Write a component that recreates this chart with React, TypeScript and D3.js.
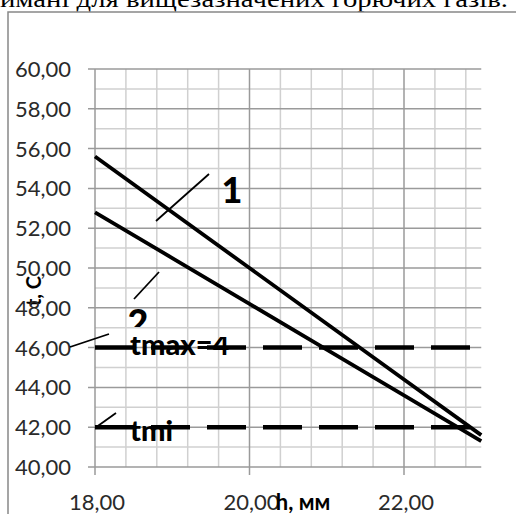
import React from "react";
import * as d3 from "d3";

const hValues = [18, 19, 20, 21, 22, 23];
const series1 = [55.6, 52.8, 50.0, 47.2, 44.4, 41.6];
const series2 = [52.8, 50.5, 48.2, 45.9, 43.6, 41.3];
const tMax = 46;
const tMin = 42;
const yTicks = [40, 42, 44, 46, 48, 50, 52, 54, 56, 58, 60];
const yMinor = [41, 43, 45, 47, 49, 51, 53, 55, 57, 59];
const xTicks = [18, 20, 22];
const xMinor = [18.4, 18.8, 19.2, 19.6, 20.4, 20.8, 21.2, 21.6, 22.4, 22.8];
const seriesLabels = ["1", "2"];
const refLabels = ["tmax=4", "tmi"];
const xTitle = "h, мм";
const yTitle = "t, C";
const captionText = "имані для вищезазначених горючих газів.";

export default function App() {
  const W = 516, H = 514;
  const x = d3.scaleLinear().domain([18, 23]).range([95, 481.25]);
  const y = d3.scaleLinear().domain([40, 60]).range([467, 69]);
  const fmt = (v: number) => v.toFixed(2).replace(".", ",");
  const line = d3.line<number>().x((_, i) => x(hValues[i])).y((d) => y(d));
  const font = "Lato, 'Open Sans', sans-serif";
  const x0 = x(18), x1 = x(23);

  return (
    <svg width={W} height={H} style={{ position: "absolute", left: 0, top: 0, background: "#fff" }}>
      <defs>
        <clipPath id="clip2"><rect x={100} y={280} width={80} height={47} /></clipPath>
        <clipPath id="clipMax"><rect x={110} y={337} width={140} height={30} /></clipPath>
        <clipPath id="clipMin"><rect x={110} y={410} width={63} height={40} /></clipPath>
      </defs>
      <text x={0} y={7} fontFamily="'Liberation Serif', serif" fontSize={24} textLength={508} lengthAdjust="spacingAndGlyphs" fill="#000">{captionText}</text>
      <rect x={8} y={12} width={520} height={520} fill="none" stroke="#888" strokeWidth={1.5} />
      {/* minor grid */}
      {yMinor.map((v) => (
        <line key={"ym" + v} x1={x0} x2={x1} y1={y(v)} y2={y(v)} stroke="#d0d0d0" strokeWidth={1.5} />
      ))}
      {xMinor.map((v) => (
        <line key={"xm" + v} x1={x(v)} x2={x(v)} y1={y(60)} y2={y(40)} stroke="#d0d0d0" strokeWidth={1.5} />
      ))}
      {/* major grid */}
      {yTicks.map((v) => (
        <line key={"yM" + v} x1={x0 - 7} x2={x1} y1={y(v)} y2={y(v)} stroke="#9a9a9a" strokeWidth={1.5} />
      ))}
      {xTicks.map((v) => (
        <line key={"xM" + v} x1={x(v)} x2={x(v)} y1={y(60)} y2={y(40) + 8} stroke="#9a9a9a" strokeWidth={1.5} />
      ))}
      {/* y title (under tick labels) */}
      <text transform={`translate(41,291) rotate(-90)`} textAnchor="middle" fontFamily={font} fontWeight="bold" fontSize={20} fill="#000">{yTitle}</text>
      {/* tick labels */}
      {yTicks.map((v) => (
        <text key={"yl" + v} x={71} y={y(v) + 8} textAnchor="end" fontFamily={font} fontSize={22} fill="#2a2a2a">{fmt(v)}</text>
      ))}
      {xTicks.map((v) => (
        <text key={"xl" + v} x={x(v) + 2} y={510} textAnchor="middle" fontFamily={font} fontSize={22} fill="#2a2a2a">{fmt(v)}</text>
      ))}
      <text x={303} y={510} textAnchor="middle" fontFamily={font} fontWeight="bold" fontSize={22} fill="#000">{xTitle}</text>
      {/* reference lines */}
      {[tMax, tMin].map((v) => (
        <line key={"ref" + v} x1={x0} x2={x1} y1={y(v)} y2={y(v)} stroke="#000" strokeWidth={4.5} strokeDasharray="39 17" />
      ))}
      {/* series */}
      <path d={line(series1) || ""} fill="none" stroke="#000" strokeWidth={3.8} />
      <path d={line(series2) || ""} fill="none" stroke="#000" strokeWidth={3.8} />
      {/* labels */}
      <text x={232} y={203} textAnchor="middle" fontFamily={font} fontWeight={900} fontSize={36} fill="#000">{seriesLabels[0]}</text>
      <line x1={156} y1={221} x2={209} y2={174} stroke="#000" strokeWidth={1.8} />
      <g clipPath="url(#clip2)">
        <text x={138} y={335} textAnchor="middle" fontFamily={font} fontWeight={900} fontSize={36} fill="#000">{seriesLabels[1]}</text>
      </g>
      <line x1={134} y1={299} x2={159} y2={272} stroke="#000" strokeWidth={1.8} />
      <g clipPath="url(#clipMax)">
        <text x={130} y={355} fontFamily={font} fontWeight={900} fontSize={29} fill="#000">{refLabels[0]}</text>
      </g>
      <line x1={70} y1={347} x2={109} y2={334} stroke="#000" strokeWidth={1.8} />
      <g clipPath="url(#clipMin)">
        <text x={130} y={441} fontFamily={font} fontWeight={900} fontSize={29} fill="#000">{refLabels[1]}</text>
      </g>
      <line x1={95} y1={428} x2={116} y2={413} stroke="#000" strokeWidth={1.8} />
    </svg>
  );
}
